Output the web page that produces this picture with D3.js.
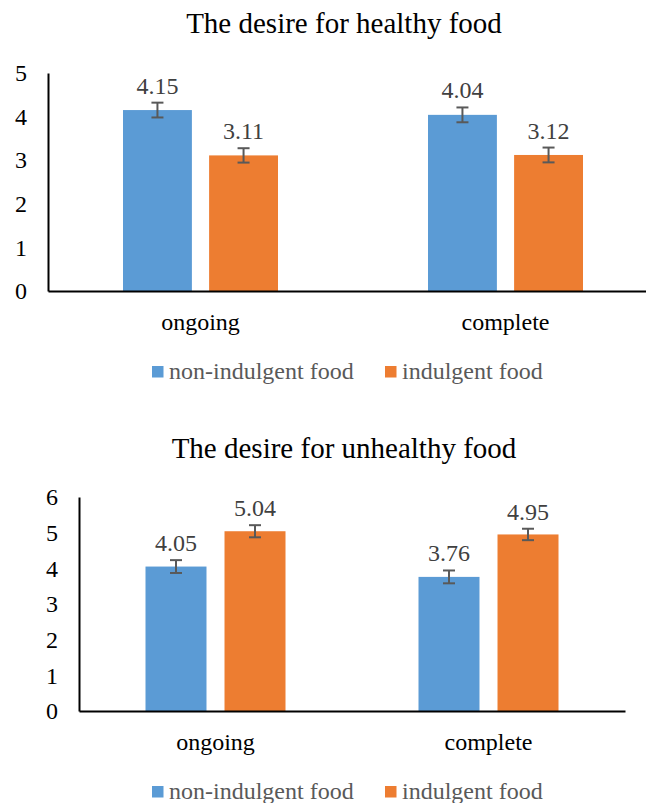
<!DOCTYPE html>
<html>
<head>
<meta charset="utf-8">
<script src="https://cdn.jsdelivr.net/npm/d3@7"></script>
<style>
  html, body { margin: 0; padding: 0; background: #fff; }
  svg { display: block; }
</style>
</head>
<body>
<svg id="chart" width="646" height="803"></svg>
<script>
// ---- data ----
const categories = ["ongoing", "complete"];
const seriesNames = ["non-indulgent food", "indulgent food"];
const seriesColors = ["#5B9BD5", "#ED7D31"];

const healthyTitle = "The desire for healthy food";
const healthyNonIndulgent = [4.15, 4.04];
const healthyIndulgent = [3.11, 3.12];
const healthyErrNonIndulgent = [0.17, 0.17];
const healthyErrIndulgent = [0.165, 0.17];
const healthyTicks = [0, 1, 2, 3, 4, 5];

const unhealthyTitle = "The desire for unhealthy food";
const unhealthyNonIndulgent = [4.05, 3.76];
const unhealthyIndulgent = [5.04, 4.95];
const unhealthyErrNonIndulgent = [0.18, 0.18];
const unhealthyErrIndulgent = [0.17, 0.16];
const unhealthyTicks = [0, 1, 2, 3, 4, 5, 6];

const FONT = '"Liberation Serif", "Times New Roman", serif';
const svg = d3.select("#chart");

function drawChart(opt) {
  const g = svg.append("g");
  const y = d3.scaleLinear().domain([0, d3.max(opt.ticks)]).range([opt.bottom, opt.top]);
  const x0 = d3.scaleBand().domain(categories).range([opt.left, opt.right]).padding(0);
  const x1 = d3.scaleBand().domain(seriesNames)
    .range([opt.innerStart, opt.innerEnd]).paddingInner(opt.innerPad).paddingOuter(0);

  // title
  g.append("text").attr("x", opt.titleX).attr("y", opt.titleY)
    .attr("text-anchor", "middle").attr("font-size", 29).attr("fill", "#000")
    .style("font-family", FONT)
    .text(opt.title);

  // bars
  const rows = [];
  categories.forEach((c, i) => {
    seriesNames.forEach((s, j) => {
      rows.push({cat: c, ser: s, j: j, v: opt.values[j][i], e: opt.errors[j][i]});
    });
  });
  const bar = g.selectAll(".bar").data(rows).enter().append("g");
  bar.append("rect")
    .attr("x", d => x0(d.cat) + x1(d.ser))
    .attr("y", d => y(d.v))
    .attr("width", x1.bandwidth())
    .attr("height", d => y(0) - y(d.v))
    .attr("fill", d => seriesColors[d.j]);

  // error bars
  const cx = d => x0(d.cat) + x1(d.ser) + x1.bandwidth() / 2;
  const eb = bar.append("g").attr("stroke", "#595959").attr("stroke-width", 2);
  eb.append("line").attr("x1", cx).attr("x2", cx)
    .attr("y1", d => y(d.v + d.e)).attr("y2", d => y(d.v - d.e));
  eb.append("line").attr("x1", d => cx(d) - 6).attr("x2", d => cx(d) + 6)
    .attr("y1", d => y(d.v + d.e)).attr("y2", d => y(d.v + d.e));
  eb.append("line").attr("x1", d => cx(d) - 6).attr("x2", d => cx(d) + 6)
    .attr("y1", d => y(d.v - d.e)).attr("y2", d => y(d.v - d.e));

  // value labels
  bar.append("text")
    .attr("x", cx)
    .attr("y", d => y(d.v + d.e) - 9)
    .attr("text-anchor", "middle").attr("font-size", 24).attr("fill", "#404040")
    .style("font-family", FONT)
    .text(d => d.v.toFixed(2));

  // y axis
  const ya = g.append("g").attr("transform", `translate(${opt.left},0)`)
    .call(d3.axisLeft(y).tickValues(opt.ticks).tickSize(0).tickSizeOuter(0).tickPadding(21).tickFormat(d3.format("d")));
  ya.select(".domain").attr("stroke", "#000").attr("stroke-width", 2);
  ya.selectAll("text").attr("font-size", 24).attr("fill", "#000").style("font-family", FONT);

  // x axis
  const xa = g.append("g").attr("transform", `translate(0,${opt.bottom})`)
    .call(d3.axisBottom(x0).tickSize(0).tickSizeOuter(0).tickPadding(22));
  xa.select(".domain").attr("stroke", "#000").attr("stroke-width", 2);
  xa.selectAll("text").attr("font-size", 24).attr("fill", "#000").style("font-family", FONT);

  // legend
  const legX = [152, 385];
  const lg = g.selectAll(".leg").data(seriesNames).enter().append("g");
  lg.append("rect").attr("x", (d, i) => legX[i]).attr("y", opt.legendY - 13)
    .attr("width", 11.5).attr("height", 11.5).attr("fill", (d, i) => seriesColors[i]);
  lg.append("text").attr("x", (d, i) => legX[i] + 17).attr("y", opt.legendY)
    .attr("font-size", 24).attr("fill", "#595959").style("font-family", FONT).text(d => d);
}

drawChart({
  title: healthyTitle, titleX: 344, titleY: 33,
  values: [healthyNonIndulgent, healthyIndulgent],
  errors: [healthyErrNonIndulgent, healthyErrIndulgent],
  ticks: healthyTicks,
  left: 48, right: 658, top: 73, bottom: 291,
  innerStart: 75, innerEnd: 230, innerPad: 0.2,
  legendY: 379
});

drawChart({
  title: unhealthyTitle, titleX: 344, titleY: 458,
  values: [unhealthyNonIndulgent, unhealthyIndulgent],
  errors: [unhealthyErrNonIndulgent, unhealthyErrIndulgent],
  ticks: unhealthyTicks,
  left: 79, right: 625, top: 497, bottom: 711,
  innerStart: 66.5, innerEnd: 206.5, innerPad: 0.228,
  legendY: 799
});
</script>
</body>
</html>
